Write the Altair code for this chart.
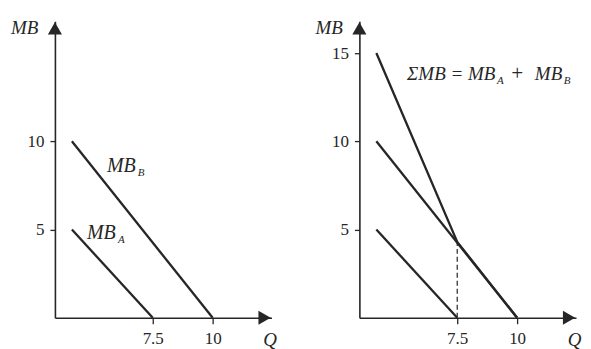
import altair as alt
import pandas as pd

# ---- data ----
q_a = [0, 7.5]
mb_a = [5, 0]
q_b = [0, 10]
mb_b = [10, 0]
q_sum = [0, 7.5, 10]
mb_sum = [15, 4.3, 0]
q_dash = [7.5, 7.5]
mb_dash = [0, 4.3]

x_ticks = [7.5, 10]
y_ticks_left = [5, 10]
y_ticks_right = [5, 10, 15]

# annotation anchors (q, mb)
lab_b = (3.25, 8.6)
lab_a = (1.4, 4.8)
lab_sum = (2.85, 13.8)

# schematic axis ends (the drawing is not to scale)
q_axis, q_end = -1.5, 12.4
mb_top = 16.8

INK = "#262626"
FONT = "Liberation Serif"
W, H = 217, 297

xscale = alt.Scale(domain=[q_axis, 0, 7.5, 10, q_end], range=[0, 17, 98, 158, W],
                   nice=False, zero=False)
yscale = alt.Scale(domain=[0, mb_top], nice=False, zero=False)


def xaxis():
    return alt.Axis(values=x_ticks, format=".2~f", title="Q", grid=False, tickSize=6,
                    tickWidth=1.3, tickColor=INK, domainColor=INK, domainWidth=1.6,
                    labelFont=FONT, labelFontSize=17, labelColor=INK, labelPadding=7,
                    labelFlush=False, labelOverlap=False,
                    titleFont=FONT, titleFontSize=19, titleFontStyle="italic",
                    titleFontWeight="normal", titleColor=INK, titleAngle=0,
                    titleX=W - 2, titleY=28, titleAlign="center", titleBaseline="alphabetic")


def yaxis(vals):
    return alt.Axis(values=vals, format="d", title="MB", grid=False, tickSize=5,
                    tickWidth=1.3, tickColor=INK, domainColor=INK, domainWidth=1.6,
                    labelFont=FONT, labelFontSize=17, labelColor=INK, labelPadding=6,
                    labelFlush=False, labelOverlap=False,
                    titleFont=FONT, titleFontSize=19, titleFontStyle="italic",
                    titleFontWeight="normal", titleColor=INK, titleAngle=0,
                    titleX=-17, titleY=12, titleAlign="right", titleBaseline="alphabetic")


def enc(chart):
    return chart.encode(x=alt.X("q:Q", scale=xscale), y=alt.Y("mb:Q", scale=yscale))


def line_layer(q, mb, dash=None, width=2.3):
    df = pd.DataFrame({"q": q, "mb": mb})
    kw = {"color": INK, "strokeWidth": width}
    if dash:
        kw["strokeDash"] = dash
    return enc(alt.Chart(df).mark_line(**kw))


def text_layer(pos, txt, dx=0, dy=0, size=20):
    df = pd.DataFrame({"q": [pos[0]], "mb": [pos[1]], "t": [txt]})
    return enc(alt.Chart(df).mark_text(align="left", baseline="middle", font=FONT,
                                       fontStyle="italic", fontSize=size, color=INK,
                                       dx=dx, dy=dy)).encode(text="t:N")


def arrows():
    up = pd.DataFrame({"q": [q_axis], "mb": [mb_top]})
    right = pd.DataFrame({"q": [q_end], "mb": [0]})
    a1 = enc(alt.Chart(up).mark_point(shape="triangle-up", filled=True, size=200, color=INK,
                                      opacity=1, yOffset=7))
    a2 = enc(alt.Chart(right).mark_point(shape="triangle-right", filled=True, size=200,
                                         color=INK, opacity=1, xOffset=-7))
    return [a1, a2]


def axes_layer(yvals):
    df = pd.DataFrame({"q": [q_axis], "mb": [0]})
    return alt.Chart(df).mark_point(opacity=0).encode(
        x=alt.X("q:Q", scale=xscale, axis=xaxis()),
        y=alt.Y("mb:Q", scale=yscale, axis=yaxis(yvals)),
    )


left = alt.layer(
    axes_layer(y_ticks_left),
    line_layer(q_a, mb_a),
    line_layer(q_b, mb_b),
    text_layer(lab_b, "MB"),
    text_layer(lab_b, "B", dx=31, dy=7, size=11),
    text_layer(lab_a, "MB"),
    text_layer(lab_a, "A", dx=31, dy=7, size=11),
    *arrows(),
).properties(width=W, height=H)

right = alt.layer(
    axes_layer(y_ticks_right),
    line_layer(q_a, mb_a),
    line_layer(q_b, mb_b),
    line_layer(q_sum, mb_sum),
    line_layer(q_dash, mb_dash, dash=[5, 3], width=1.2),
    text_layer(lab_sum, "ΣMB = MB", size=19),
    text_layer(lab_sum, "A", dx=90, dy=7, size=11),
    text_layer(lab_sum, "+", dx=103, dy=0, size=21),
    text_layer(lab_sum, "MB", dx=128, dy=0, size=19),
    text_layer(lab_sum, "B", dx=157, dy=7, size=11),
    *arrows(),
).properties(width=W, height=H)

chart = alt.hconcat(left, right, spacing=88, bounds="flush").properties(
    padding={"left": 2, "top": 10, "right": 2, "bottom": 2}
).configure(background="white").configure_view(stroke=None)

chart.save("out.html", embed_options={"renderer": "svg", "actions": False})
